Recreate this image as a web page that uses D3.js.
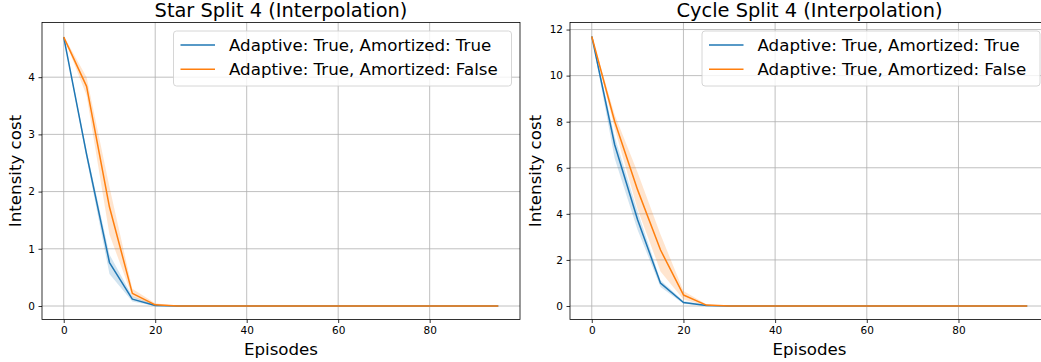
<!DOCTYPE html>
<html><head><meta charset="utf-8">
<script src="https://cdn.jsdelivr.net/npm/d3@7"></script>
<style>
body{margin:0;background:#fff}
svg{display:block}
text{font-family:"DejaVu Sans",sans-serif;fill:#000}
</style>
</head><body>
<svg id="chart" width="1041" height="362"></svg>
<script>
// ---------- data ----------
const episodes = [0,5,10,15,20,25,30,35,40,45,50,55,60,65,70,75,80,85,90,95];
const seriesNames = ["Adaptive: True, Amortized: True", "Adaptive: True, Amortized: False"];
const seriesColors = ["#1f77b4", "#ff7f0e"];
const titles = ["Star Split 4 (Interpolation)", "Cycle Split 4 (Interpolation)"];
const xTicks = [0,20,40,60,80];
const starYTicks = [0,1,2,3,4];
const cycleYTicks = [0,2,4,6,8,10,12];

// Star: amortized true
const starAmMean = [4.70,2.65,0.76,0.12,0.01,0,0,0,0,0,0,0,0,0,0,0,0,0,0,0];
const starAmLow  = [4.70,2.58,0.56,0.08,0.00,0,0,0,0,0,0,0,0,0,0,0,0,0,0,0];
const starAmHigh = [4.72,2.72,0.90,0.17,0.02,0,0,0,0,0,0,0,0,0,0,0,0,0,0,0];
// Star: amortized false
const starNoMean = [4.70,3.84,1.73,0.22,0.02,0,0,0,0,0,0,0,0,0,0,0,0,0,0,0];
const starNoLow  = [4.70,3.68,1.25,0.16,0.00,0,0,0,0,0,0,0,0,0,0,0,0,0,0,0];
const starNoHigh = [4.72,4.00,2.08,0.30,0.05,0,0,0,0,0,0,0,0,0,0,0,0,0,0,0];
// Cycle: amortized true
const cycAmMean = [11.70,7.00,3.74,0.99,0.15,0.02,0,0,0,0,0,0,0,0,0,0,0,0,0,0];
const cycAmLow  = [11.70,6.40,3.30,0.82,0.10,0.00,0,0,0,0,0,0,0,0,0,0,0,0,0,0];
const cycAmHigh = [11.72,7.35,4.10,1.12,0.22,0.04,0,0,0,0,0,0,0,0,0,0,0,0,0,0];
// Cycle: amortized false
const cycNoMean = [11.70,8.01,5.04,2.43,0.48,0.04,0,0,0,0,0,0,0,0,0,0,0,0,0,0];
const cycNoLow  = [11.70,7.70,4.20,1.50,0.28,0.01,0,0,0,0,0,0,0,0,0,0,0,0,0,0];
const cycNoHigh = [11.72,8.30,5.80,3.10,0.65,0.08,0,0,0,0,0,0,0,0,0,0,0,0,0,0];

const panels = [
  {title: titles[0], left: 42, right: 520, yTicks: starYTicks, yLabelX: 15,
   series: [[starAmMean,starAmLow,starAmHigh],[starNoMean,starNoLow,starNoHigh]], legendLeft: 173.5},
  {title: titles[1], left: 570, right: 1049, yTicks: cycleYTicks, yLabelX: 535,
   series: [[cycAmMean,cycAmLow,cycAmHigh],[cycNoMean,cycNoLow,cycNoHigh]], legendLeft: 702}
];

const svg = d3.select("#chart");
const plotTop = 22.5, plotBottom = 319.5;

panels.forEach(p => {
  const g = svg.append("g");
  const x = d3.scaleLinear().domain([-4.75, 99.75]).range([p.left, p.right]);
  const allVals = p.series.flatMap(s => s.flat());
  const ymin = d3.min(allVals), ymax = d3.max(allVals);
  const pad = (ymax - ymin) * 0.05;
  const y = d3.scaleLinear().domain([ymin - pad, ymax + pad]).range([plotBottom, plotTop]);

  // grid
  g.append("g").selectAll("line").data(xTicks).join("line")
    .attr("x1", d => x(d)).attr("x2", d => x(d)).attr("y1", plotTop).attr("y2", plotBottom)
    .attr("stroke", "#b0b0b0").attr("stroke-width", 0.8);
  g.append("g").selectAll("line").data(p.yTicks).join("line")
    .attr("x1", p.left).attr("x2", p.right).attr("y1", d => y(d)).attr("y2", d => y(d))
    .attr("stroke", "#b0b0b0").attr("stroke-width", 0.8);

  // bands and lines
  p.series.forEach((s, i) => {
    const [mean, low, high] = s;
    const area = d3.area().x((d, j) => x(episodes[j])).y0((d, j) => y(low[j])).y1((d, j) => y(high[j]));
    g.append("path").datum(mean).attr("d", area).attr("fill", seriesColors[i]).attr("fill-opacity", 0.2);
  });
  p.series.forEach((s, i) => {
    const line = d3.line().x((d, j) => x(episodes[j])).y(d => y(d));
    g.append("path").datum(s[0]).attr("d", line).attr("fill", "none")
      .attr("stroke", seriesColors[i]).attr("stroke-width", 1.5).attr("stroke-linejoin", "round");
  });

  // axes
  const xAxis = d3.axisBottom(x).tickValues(xTicks).tickSize(3.5).tickPadding(3.5).tickFormat(d3.format("d"));
  const xa = g.append("g").attr("transform", `translate(0,${plotBottom})`).call(xAxis);
  const yAxis = d3.axisLeft(y).tickValues(p.yTicks).tickSize(3.5).tickPadding(3.5).tickFormat(d3.format("d"));
  const ya = g.append("g").attr("transform", `translate(${p.left},0)`).call(yAxis);
  [xa, ya].forEach(a => {
    a.select(".domain").remove();
    a.selectAll(".tick line").attr("stroke", "#000").attr("stroke-width", 0.8);
    a.selectAll(".tick text").attr("font-size", "10.5px").attr("font-family", "DejaVu Sans").attr("fill", "#000");
  });

  // spines
  g.append("rect").attr("x", p.left).attr("y", plotTop).attr("width", p.right - p.left).attr("height", plotBottom - plotTop)
    .attr("fill", "none").attr("stroke", "#000").attr("stroke-width", 0.8);

  // title & labels
  const cx = (p.left + p.right) / 2;
  g.append("text").attr("x", cx).attr("y", 17).attr("text-anchor", "middle")
    .attr("font-size", "19.4px").text(p.title);
  g.append("text").attr("x", cx).attr("y", 355).attr("text-anchor", "middle")
    .attr("font-size", "16.67px").text("Episodes");
  g.append("text").attr("transform", `translate(${p.yLabelX},${(plotTop + plotBottom) / 2}) rotate(-90)`)
    .attr("text-anchor", "middle").attr("dy", "0.36em").attr("font-size", "16.67px").text("Intensity cost");

  // legend
  const lg = g.append("g").attr("transform", `translate(${p.legendLeft},31)`);
  lg.append("rect").attr("width", 338).attr("height", 55).attr("rx", 3).attr("ry", 3)
    .attr("fill", "#fff").attr("fill-opacity", 0.8).attr("stroke", "#cccccc").attr("stroke-width", 0.8);
  seriesNames.forEach((name, i) => {
    const yy = 14 + i * 24.3;
    lg.append("line").attr("x1", 7).attr("x2", 41.5).attr("y1", yy).attr("y2", yy)
      .attr("stroke", seriesColors[i]).attr("stroke-width", 1.5);
    lg.append("text").attr("x", 55.5).attr("y", yy).attr("dy", "0.36em")
      .attr("font-size", "16.67px").text(name);
  });
});
</script>
</body></html>
